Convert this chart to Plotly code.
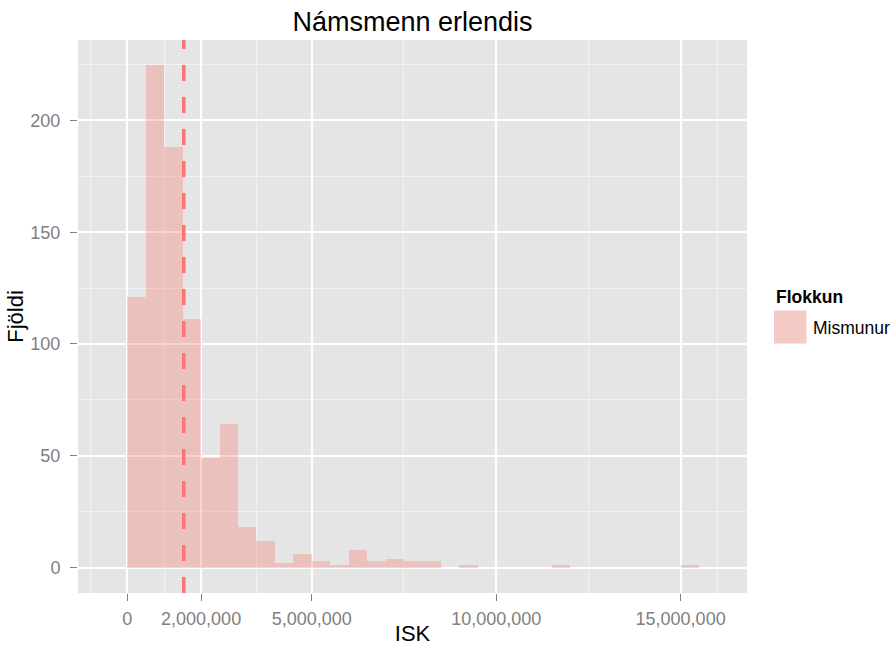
import plotly.graph_objects as go

# ---- data ----
bin_width = 500000
bin_starts = [i * 500000 for i in range(31)]
counts = [121, 225, 188, 111, 49, 64, 18, 12, 2, 6,
          3, 1, 8, 3, 4, 3, 3, 0, 1, 0,
          0, 0, 0, 1, 0, 0, 0, 0, 0, 0,
          1]
mean_value = 1530000

x_tickvals = [0, 2000000, 5000000, 10000000, 15000000]
x_ticktext = ["0", "2,000,000", "5,000,000", "10,000,000", "15,000,000"]
x_minor = [-1000000, 1000000, 3500000, 7500000, 12500000, 16000000]
y_tickvals = [0, 50, 100, 150, 200]
y_minor = [25, 75, 125, 175, 225]

title_text = "Námsmenn erlendis"
x_title = "ISK"
y_title = "Fjöldi"
legend_title = "Flokkun"
series_name = "Mismunur"

FONT = "Liberation Sans, Arial, sans-serif"
RED = "#F8766D"
FILL = "rgba(248,118,109,0.32)"

FW, FH = 893, 646
L, R, T, B = 78, 747, 40, 593
W, H = R - L, B - T


def px(x):
    return (x - L) / W


def py(y):
    return (B - y) / H


fig = go.Figure()
fig.add_trace(go.Bar(
    x=bin_starts, y=counts, width=[bin_width] * len(bin_starts), offset=0,
    marker=dict(color=FILL, line=dict(width=0)),
    name=series_name, showlegend=False,
))

fig.add_shape(type="line", x0=mean_value, x1=mean_value, xref="x",
              y0=0, y1=1, yref="y domain",
              line=dict(color=RED, width=3.5, dash="16px,16px"))

# manual ggplot-style legend
fig.add_shape(type="rect", xref="paper", yref="paper",
              x0=px(774), x1=px(806.5), y0=py(343.5), y1=py(310.5),
              fillcolor="#F2F2F2", line=dict(width=0), layer="above")
fig.add_shape(type="rect", xref="paper", yref="paper",
              x0=px(774), x1=px(806.5), y0=py(343.5), y1=py(310.5),
              fillcolor=FILL, line=dict(width=0), layer="above")
fig.add_annotation(text="<b>" + legend_title + "</b>", xref="paper", yref="paper",
                   x=px(774), y=py(297), xanchor="left", yanchor="middle",
                   showarrow=False, font=dict(family=FONT, size=17.5, color="black"))
fig.add_annotation(text=series_name, xref="paper", yref="paper",
                   x=px(811), y=py(328), xanchor="left", yanchor="middle",
                   showarrow=False, font=dict(family=FONT, size=17.5, color="black"))

fig.update_layout(
    width=FW, height=FH,
    margin=dict(l=L, r=FW - R, t=T, b=FH - B, pad=0, autoexpand=False),
    paper_bgcolor="white", plot_bgcolor="#E5E5E5",
    bargap=0,
    showlegend=False,
    font=dict(family=FONT, color="black"),
    title=dict(text=title_text, x=(L + R) / 2 / FW, xanchor="center",
               y=1 - 22 / FH, yanchor="middle", yref="container",
               font=dict(family=FONT, size=27, color="black")),
)

fig.update_xaxes(
    range=[-1337000, 16800000],
    tickmode="array", tickvals=x_tickvals, ticktext=x_ticktext,
    showgrid=True, gridcolor="white", gridwidth=1.5,
    zeroline=False, showline=False,
    ticks="outside", ticklen=7, tickwidth=1.3, tickcolor="#7F7F7F",
    tickfont=dict(family=FONT, size=18, color="#7F7F7F"),
    ticklabelstandoff=2,
    minor=dict(tickmode="array", tickvals=x_minor, showgrid=True,
               gridcolor="#F2F2F2", gridwidth=0.7, ticks=""),
    title=dict(text=x_title, font=dict(family=FONT, size=22, color="black"),
               standoff=5),
)
fig.update_yaxes(
    range=[-11.4, 236],
    tickmode="array", tickvals=y_tickvals,
    showgrid=True, gridcolor="white", gridwidth=1.5,
    zeroline=False, showline=False,
    ticks="outside", ticklen=7, tickwidth=1.3, tickcolor="#7F7F7F",
    tickfont=dict(family=FONT, size=18, color="#7F7F7F"),
    ticklabelstandoff=6,
    minor=dict(tickmode="array", tickvals=y_minor, showgrid=True,
               gridcolor="#F2F2F2", gridwidth=0.7, ticks=""),
    title=dict(text=y_title, font=dict(family=FONT, size=22, color="black"),
               standoff=0),
)

fig.write_html(
    "out.html",
    config={"displayModeBar": False},
    post_script="document.body.style.margin='0';document.body.style.overflow='hidden';",
)
